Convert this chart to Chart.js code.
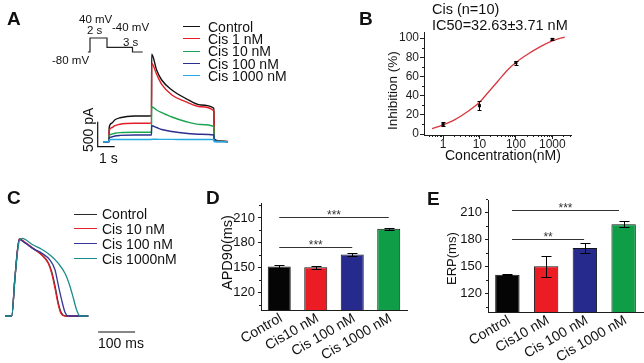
<!DOCTYPE html>
<html>
<head>
<meta charset="utf-8">
<script src="https://cdn.jsdelivr.net/npm/chart.js@4.4.0/dist/chart.umd.min.js"></script>
<style>
  body { margin: 0; background: #fff; }
  #fig { position: relative; width: 644px; height: 363px; overflow: hidden; background: #fff; }
  #fig canvas { position: absolute; left: 0; top: 0; z-index: 1; }
  .txt { position: absolute; z-index: 2; font-family: 'Liberation Sans', Arial, sans-serif; color: #111; white-space: nowrap; line-height: 1; }
  .key { position: absolute; z-index: 2; height: 0; border-top: 1.5px solid; }
</style>
</head>
<body>
<div id="fig">
  <canvas id="chartA" width="644" height="363"></canvas>
  <canvas id="chartB" width="644" height="363"></canvas>
  <canvas id="chartC" width="644" height="363"></canvas>
  <canvas id="chartD" width="644" height="363"></canvas>
  <canvas id="chartE" width="644" height="363"></canvas>
</div>
<script>
const FONT = "'Liberation Sans', Arial, sans-serif";
const INK = '#1d1d1d';
Chart.defaults.font.family = FONT;
Chart.defaults.color = INK;
Chart.defaults.animation = false;
Chart.defaults.plugins.legend.display = false;
Chart.defaults.plugins.tooltip.enabled = false;

// ---------- A: tail currents (time in s, current in pA) ----------
const legendA = ['Control', 'Cis 1 nM', 'Cis 10 nM', 'Cis 100 nM', 'Cis 1000 nM'];
const colorsA = ['#111111', '#e31e26', '#1aa550', '#2d2f8e', '#26a9e0'];
const traceTime = [-0.35, 0, 0.01, 0.15, 0.35, 0.65, 1.5, 2.5, 2.51, 2.8, 3.1, 3.7, 4.5, 5.4, 6.17, 6.19, 6.5, 7.0];
const ctrlCurrent = [0, 0, 280, 370, 440, 480, 514, 520, 1748, 1434, 1234, 1034, 868, 734, 668, 54, 14, 0];
const cis1Current = [0, 0, 220, 280, 320, 350, 368, 374, 1568, 1348, 1148, 934, 800, 700, 620, 34, 14, 4];
const cis10Current = [0, 0, 120, 150, 170, 182, 188, 188, 700, 634, 584, 494, 404, 344, 300, 24, 8, 0];
const cis100Current = [0, 0, 70, 95, 115, 126, 134, 134, 320, 284, 244, 204, 168, 148, 134, 14, 4, 0];
const cis1000Current = [0, 0, 40, 44, 44, 44, 44, 44, 48, 48, 46, 46, 44, 44, 44, 0, 0, 0];
// voltage protocol (s, mV)
const protoTime = [-0.25, 0, 0, 2, 2, 5, 5, 6.2];
const protoVolt = [-80, -80, 40, 40, -40, -40, -80, -80];

// ---------- B: concentration-response ----------
const concB = [1, 10, 100, 1000];
const inhibB = [10, 29.5, 74.3, 98.5];
const inhibErrB = [2, 5, 2, 1];
const fitConc = [0.5, 1, 2, 5, 10, 17, 32, 60, 100, 200, 470, 1000, 2200];
const fitInhib = [5.5, 9.5, 14.5, 24, 33, 43, 55, 67, 74.5, 82.5, 91, 97, 101];
const yTicksB = [0, 20, 40, 60, 80, 100];
const yMinorB = [10, 30, 50, 70, 90];
const xTicksB = [1, 10, 100, 1000];
const xMinorB = [0.4, 0.5, 0.6, 0.7, 0.8, 0.9, 2, 3, 4, 5, 6, 7, 8, 9, 20, 30, 40, 50, 60, 70, 80, 90,
                 200, 300, 400, 500, 600, 700, 800, 900, 2000, 3000];

// ---------- C: action potentials (ms, mV) ----------
const legendC = ['Control', 'Cis 10 nM', 'Cis 100 nM', 'Cis 1000nM'];
const colorsC = ['#2a2a2a', '#e2242c', '#35379a', '#1d8c8c'];
const apCtrlT = [-18, 0, 9, 20.5, 36, 58, 81, 99, 108, 117, 126, 134, 146, 207];
const apCtrlV = [-80, -80, -18, 40, 34, 25, 15.5, 3, -11, -33, -60, -75, -80, -80];
const apCis10T = [-18, 0, 9, 20.5, 36, 58, 81, 99, 108, 117, 126, 133, 144, 207];
const apCis10V = [-80, -80, -19, 40, 35, 25.5, 15, 2, -13.5, -37, -63, -76, -80, -80];
const apCis100T = [-18, 0, 9, 20.5, 36, 58, 81, 103.5, 117, 126, 135, 144, 153, 207];
const apCis100V = [-80, -80, -19, 39, 34, 25, 18, 7, -8, -32, -55, -74, -80, -80];
const apCis1000T = [-18, 0, 9, 20.5, 28, 58, 81, 103.5, 126, 144, 157.6, 166.5, 175.7, 184.6, 207];
const apCis1000V = [-80, -80, -19, 37, 41, 30.6, 24, 15, 2, -13.5, -34, -52, -71, -80, -80];

// ---------- D / E: bar charts ----------
const groups = ['Control', 'Cis10 nM', 'Cis 100 nM', 'Cis 1000 nM'];
const barColors = ['#050505', '#ec1c24', '#252a8c', '#109d48'];
const apd90 = [151.5, 150.5, 166, 197];
const apd90Err = [2, 1.8, 2.2, 1];
const erp = [140.5, 150, 170.5, 197];
const erpErr = [0.5, 12, 6, 3.5];
const barTicks = [120, 150, 180, 210];
const barMinor = [105, 135, 165, 195, 225];
const sigD = [{ from: 0, to: 3, y: 211, text: '***' }, { from: 0, to: 2, y: 175, text: '***' }];
const sigE = [{ from: 0.12, to: 2.88, y: 213, text: '***' }, { from: 0.12, to: 1.98, y: 180, text: '**' }];

const pts = (xs, ys) => xs.map((x, i) => ({ x, y: ys[i] }));

// ---------- small plugins ----------
const minorTicks = {
  id: 'minorTicks',
  afterDraw(chart, args, opts) {
    const ctx = chart.ctx;
    ctx.save();
    ctx.strokeStyle = INK;
    ctx.lineWidth = 1;
    (opts.list || []).forEach(m => {
      const s = chart.scales[m.axis];
      m.values.forEach(v => {
        const p = Math.round(s.getPixelForValue(v)) + 0.5;
        ctx.beginPath();
        if (s.isHorizontal()) { ctx.moveTo(p, s.top); ctx.lineTo(p, s.top + m.len); }
        else { ctx.moveTo(s.right, p); ctx.lineTo(s.right - m.len, p); }
        ctx.stroke();
      });
    });
    ctx.restore();
  }
};

const errorBars = {
  id: 'errorBars',
  afterDatasetsDraw(chart, args, opts) {
    if (!opts.errors) return;
    const ctx = chart.ctx, ys = chart.scales.y;
    const idx = opts.dataset || 0;
    const meta = chart.getDatasetMeta(idx);
    const vals = chart.data.datasets[idx].data;
    const h = (opts.cap || 8) / 2;
    ctx.save();
    ctx.strokeStyle = '#000';
    ctx.lineWidth = 1;
    meta.data.forEach((el, j) => {
      const v = typeof vals[j] === 'object' ? vals[j].y : vals[j];
      const e = opts.errors[j];
      const x = Math.round(el.x) + 0.5;
      const top = Math.round(ys.getPixelForValue(v + e)) + 0.5;
      const bot = Math.round(ys.getPixelForValue(v - e)) + 0.5;
      ctx.beginPath();
      ctx.moveTo(x, top); ctx.lineTo(x, bot);
      ctx.moveTo(x - h, top); ctx.lineTo(x + h, top);
      ctx.moveTo(x - h, bot); ctx.lineTo(x + h, bot);
      ctx.stroke();
    });
    ctx.restore();
  }
};

const sigLines = {
  id: 'sigLines',
  afterDraw(chart, args, opts) {
    const ctx = chart.ctx, xs = chart.scales.x, ys = chart.scales.y;
    ctx.save();
    ctx.strokeStyle = '#333';
    ctx.fillStyle = '#333';
    ctx.lineWidth = 1;
    ctx.font = '12px ' + FONT;
    ctx.textAlign = 'center';
    ctx.textBaseline = 'alphabetic';
    (opts.lines || []).forEach(l => {
      const x0 = xs.getPixelForValue(l.from), x1 = xs.getPixelForValue(l.to);
      const y = Math.round(ys.getPixelForValue(l.y)) + 0.5;
      ctx.beginPath(); ctx.moveTo(x0, y); ctx.lineTo(x1, y); ctx.stroke();
      ctx.fillText(l.text, (x0 + x1) / 2, y + 1);
    });
    ctx.restore();
  }
};

// ---------- A ----------
const currentsA = [ctrlCurrent, cis1Current, cis10Current, cis100Current, cis1000Current];
const setsA = currentsA.map((arr, i) => ({
  data: pts(traceTime, arr), borderColor: colorsA[i], borderWidth: 1.4,
  pointRadius: 0, cubicInterpolationMode: 'monotone', xAxisID: 'x', yAxisID: 'y'
})).reverse();
setsA.push({
  data: pts(protoTime, protoVolt), borderColor: '#222', borderWidth: 1.2,
  pointRadius: 0, tension: 0, xAxisID: 'xP', yAxisID: 'yV'
});
// scale bar: 1 s, 500 pA
setsA.push({
  data: [{ x: -0.665, y: 400 }, { x: -0.665, y: -100 }, { x: 0.335, y: -100 }],
  borderColor: '#111', borderWidth: 1.2, pointRadius: 0, tension: 0, xAxisID: 'x', yAxisID: 'y'
});

new Chart(document.getElementById('chartA'), {
  type: 'line',
  data: { datasets: setsA },
  options: {
    responsive: false,
    layout: { padding: { left: 80, top: 20, right: 404, bottom: 198 } },
    scales: {
      x: { type: 'linear', display: false, min: -1.706, max: 7.706 },
      y: { type: 'linear', display: false, min: -466, max: 2434 },
      xP: { type: 'linear', axis: 'x', display: false, min: -1.176, max: 17.647 },
      yV: { type: 'linear', axis: 'y', display: false, min: -1048.4, max: 194.2 }
    }
  }
});

// ---------- B ----------
const tickStyle = { drawOnChartArea: false, tickLength: 4, color: INK };
new Chart(document.getElementById('chartB'), {
  type: 'line',
  data: {
    datasets: [
      { data: pts(concB, inhibB), showLine: false, pointStyle: 'rect', pointRadius: 2.2,
        backgroundColor: '#111', borderColor: '#111', borderWidth: 0 },
      { data: pts(fitConc, fitInhib), borderColor: '#d7373d', borderWidth: 1.3,
        pointRadius: 0, cubicInterpolationMode: 'monotone' }
    ]
  },
  options: {
    responsive: false,
    layout: { padding: { left: 394, top: 32, right: 73, bottom: 206 } },
    scales: {
      x: {
        type: 'logarithmic', min: 0.347, max: 3255,
        afterBuildTicks: s => { s.ticks = xTicksB.map(v => ({ value: v })); },
        ticks: { callback: v => String(v), font: { size: 12, lineHeight: 1 }, padding: 0, maxRotation: 0, autoSkip: false },
        grid: tickStyle, border: { color: INK },
        afterFit: s => { s.height = 22; }
      },
      y: {
        min: -1.04, max: 106.25,
        afterBuildTicks: s => { s.ticks = yTicksB.map(v => ({ value: v })); },
        ticks: { font: { size: 12 }, padding: 1 },
        grid: tickStyle, border: { color: INK },
        afterFit: s => { s.width = 30; }
      }
    },
    plugins: {
      errorBars: { dataset: 0, errors: inhibErrB, cap: 4 },
      minorTicks: { list: [{ axis: 'x', values: xMinorB, len: 2 }, { axis: 'y', values: yMinorB, len: 2 }] }
    }
  },
  plugins: [errorBars, minorTicks]
});

// ---------- C ----------
const apT = [apCtrlT, apCis10T, apCis100T, apCis1000T];
const apV = [apCtrlV, apCis10V, apCis100V, apCis1000V];
const setsC = apT.map((t, i) => ({
  data: pts(t, apV[i]), borderColor: colorsC[i], borderWidth: 1.3,
  pointRadius: 0, cubicInterpolationMode: 'monotone'
})).reverse();
// scale bar: 100 ms
setsC.push({
  data: [{ x: 233.5, y: -104.9 }, { x: 333.5, y: -104.9 }],
  borderColor: '#111', borderWidth: 1.2, pointRadius: 0
});
new Chart(document.getElementById('chartC'), {
  type: 'line',
  data: { datasets: setsC },
  options: {
    responsive: false,
    layout: { padding: { left: 0, top: 180, right: 444, bottom: 0 } },
    scales: {
      x: { type: 'linear', display: false, min: -31.62, max: 508.9 },
      y: { type: 'linear', display: false, min: -153.2, max: 131.9 }
    }
  }
});

// ---------- D & E ----------
function barChart(id, values, errors, sig, yMin, yMax, pad) {
  new Chart(document.getElementById(id), {
    type: 'bar',
    data: {
      labels: groups,
      datasets: [{ data: values, backgroundColor: barColors, borderColor: '#151515', borderWidth: 1,
        categoryPercentage: 1, barPercentage: 0.63 }]
    },
    options: {
      responsive: false,
      layout: { padding: pad },
      scales: {
        x: {
          ticks: { font: { size: 14 }, color: '#111', minRotation: 30, maxRotation: 30, autoSkip: false, padding: 0, labelOffset: 2 },
          grid: { display: false, drawTicks: false }, border: { color: INK },
          afterFit: s => { s.height = 50; }
        },
        y: {
          min: yMin, max: yMax,
          afterBuildTicks: s => { s.ticks = barTicks.map(v => ({ value: v })); },
          ticks: { font: { size: 13 }, color: '#111', padding: 3 },
          grid: { drawOnChartArea: false, tickLength: 3, color: INK }, border: { color: INK },
          afterFit: s => { s.width = 40; }
        }
      },
      plugins: {
        errorBars: { dataset: 0, errors: errors, cap: 10 },
        sigLines: { lines: sig },
        minorTicks: { list: [{ axis: 'y', values: barMinor, len: 2 }] }
      }
    },
    plugins: [errorBars, sigLines, minorTicks]
  });
}
barChart('chartD', apd90, apd90Err, sigD, 99, 228, { left: 221, top: 203, right: 237, bottom: 3 });
barChart('chartE', erp, erpErr, sigE, 99, 224, { left: 448, top: 200, right: 1, bottom: 1 });

// ---------- text ----------
const fig = document.getElementById('fig');
function addText(str, x, base, size, opts = {}) {
  const d = document.createElement('div');
  d.className = 'txt';
  d.textContent = str;
  d.style.fontSize = size + 'px';
  if (opts.bold) d.style.fontWeight = 'bold';
  d.style.top = Math.round(base - 0.85 * size) + 'px';
  d.style.left = x + 'px';
  fig.appendChild(d);
  if (opts.center) d.style.left = Math.round(x - d.offsetWidth / 2) + 'px';
}
function addVText(str, cx, cy, size) {
  const d = document.createElement('div');
  d.className = 'txt';
  d.textContent = str;
  d.style.fontSize = size + 'px';
  d.style.transformOrigin = '0 0';
  fig.appendChild(d);
  const w = d.offsetWidth, h = d.offsetHeight;
  d.style.left = Math.round(cx - h / 2) + 'px';
  d.style.top = Math.round(cy + w / 2) + 'px';
  d.style.transform = 'rotate(-90deg)';
}
function addKey(color, x0, x1, y) {
  const d = document.createElement('div');
  d.className = 'key';
  d.style.left = x0 + 'px';
  d.style.width = (x1 - x0) + 'px';
  d.style.top = Math.round(y - 0.75) + 'px';
  d.style.borderTopColor = color;
  fig.appendChild(d);
}

// panel letters
addText('A', 7, 25, 19, { bold: true });
addText('B', 359, 25, 19, { bold: true });
addText('C', 7, 204, 19, { bold: true });
addText('D', 206, 204, 19, { bold: true });
addText('E', 427, 205, 19, { bold: true });

// A annotations
addText('40 mV', 79, 24, 11.5);
addText('2 s', 87, 35, 11.5);
addText('-40 mV', 112, 31.5, 11.5);
addText('3 s', 123, 46.5, 11.5);
addText('-80 mV', 52, 65, 11.5);
addVText('500 pA', 87.5, 130, 14);
addText('1 s', 99, 163, 14);
legendA.forEach((name, i) => {
  const y = 26.7 + i * 12.3;
  addKey(colorsA[i], 183, 200, y);
  addText(name, 208, y + 4.8, 14);
});

// B annotations
addText('Cis (n=10)', 432, 14, 14.5);
addText('IC50=32.63\u00b13.71 nM', 432, 30, 14.5);
addVText('Inhibition (%)', 392.5, 90, 13.5);
addText('Concentration(nM)', 503, 160, 14, { center: true });

// C annotations
legendC.forEach((name, i) => {
  const y = 214.3 + i * 14.8;
  addKey(colorsC[i], 74, 97, y);
  addText(name, 102, y + 4.8, 14);
});
addText('100 ms', 98, 348, 14);

// D / E axis titles
addVText('APD90(ms)', 227, 252.5, 14.5);
addVText('ERP(ms)', 451, 258, 13);
</script>
</body>
</html>
